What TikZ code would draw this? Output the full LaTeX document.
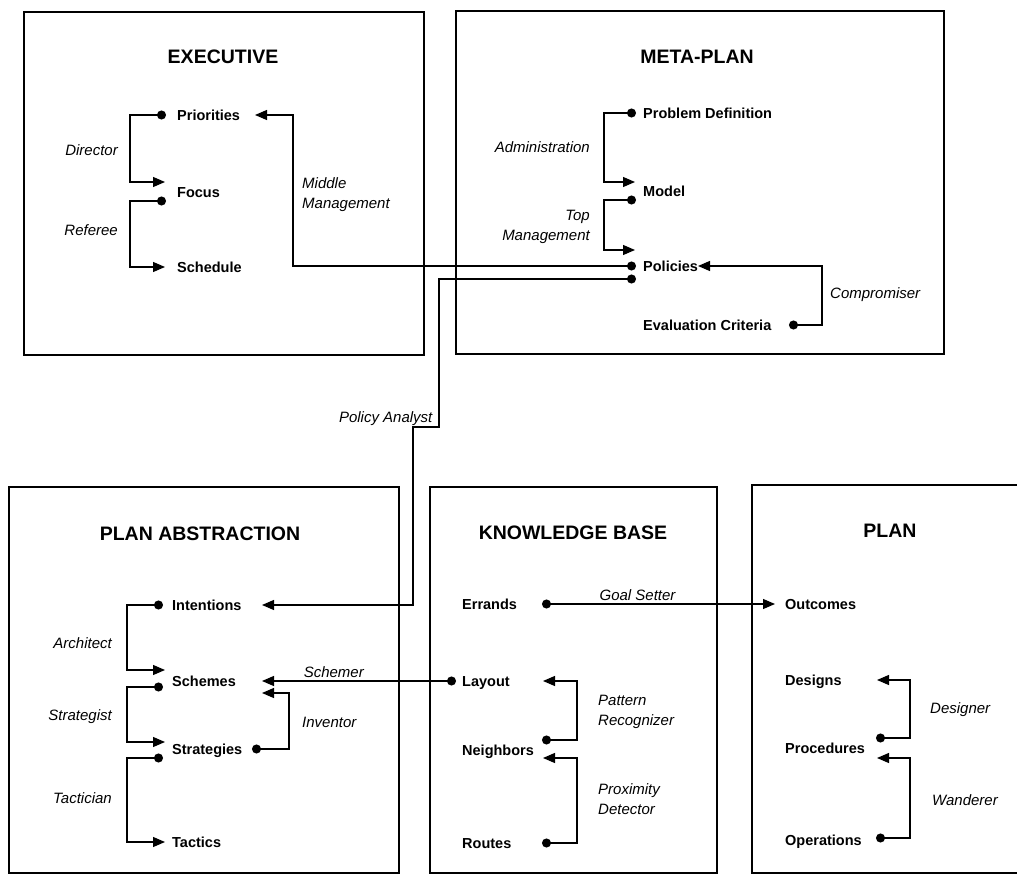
\documentclass[tikz,border=0pt]{standalone}
\usepackage{fontspec}
\setmainfont{Liberation Sans}
\usetikzlibrary{arrows.meta}

\tikzset{
  panel/.style={draw, line width=2.4pt, anchor=north west, inner sep=0pt},
  heading/.style={font=\fontsize{19.5}{22}\selectfont\bfseries, text height=14pt, text depth=0pt, inner sep=0pt},
  item/.style={anchor=west, font=\fontsize{14.5}{17}\selectfont\bfseries, text height=10.5pt, text depth=0pt, inner sep=0pt},
  role/.style={font=\fontsize{15}{20}\selectfont\itshape, inner sep=0pt},
  link/.style={line width=1.2pt, {Circle[length=9pt]}-{Triangle[length=12pt,width=10pt]}},
}

\begin{document}
\begin{tikzpicture}[x=1pt, y=-1pt]%

\path [use as bounding box, clip] (0,0) rectangle (1017,874);

% the five panels
\node [panel, minimum width=400pt, minimum height=343pt] (exec) at (23,11) {};
\node [panel, minimum width=488pt, minimum height=343pt] (meta) at (455,10) {};
\node [panel, minimum width=390pt, minimum height=386pt] (abstr) at (8,486) {};
\node [panel, minimum width=287pt, minimum height=386pt] (kbase) at (429,486) {};
\node [panel, minimum width=300pt, minimum height=388pt] (plan) at (751,484) {};

\node [heading] at (223,57) {EXECUTIVE};
\node [heading] at (697,57) {META-PLAN};
\node [heading] at (200,533) {PLAN ABSTRACTION};
\node [heading] at (573,532) {KNOWLEDGE BASE};
\node [heading] at (890,530) {PLAN};

% items
\foreach \n/\t/\y in {prio/Priorities/115, focus/Focus/192, sched/Schedule/267}
  \node [item] (\n) at (177,\y) {\t};

\foreach \n/\t/\y in {pdef/Problem Definition/113, model/Model/191, pol/Policies/266, evc/Evaluation Criteria/325}
  \node [item] (\n) at (643,\y) {\t};

\foreach \n/\t/\y in {intent/Intentions/605, schemes/Schemes/681, strat/Strategies/749, tactics/Tactics/842}
  \node [item] (\n) at (172,\y) {\t};

\foreach \n/\t/\y in {errands/Errands/604, layout/Layout/681, neigh/Neighbors/750, routes/Routes/843}
  \node [item] (\n) at (462,\y) {\t};

\foreach \n/\t/\y in {outc/Outcomes/604, designs/Designs/680, proc/Procedures/748, oper/Operations/840}
  \node [item] (\n) at (785,\y) {\t};

% executive
\draw [link] ([xshift=-11pt]prio.west) -- ++(-36,0) |- ([shift={(-12,-10)}]focus.west);
\draw [link] ([shift={(-11,9)}]focus.west) -- ++(-36,0) |- ([xshift=-12pt]sched.west);
\draw [link] ([xshift=-7pt]pol.west) -- ++(-343,0) |- ([xshift=78pt]prio.west);

% meta-plan
\draw [link] ([xshift=-7pt]pdef.west) -- ++(-32,0) |- ([shift={(-8,-9)}]model.west);
\draw [link] ([shift={(-7,9)}]model.west) -- ++(-32,0) |- ([shift={(-8,-16)}]pol.west);
\draw [link] ([xshift=146pt]evc.west) -- ++(33,0) |- ([xshift=55pt]pol.west);
\draw [link] ([shift={(-7,13)}]pol.west) -- ++(-197,0) -- ++(0,148)
    node [role, anchor=base east, xshift=-6pt, yshift=5pt] {Policy Analyst}
  -- ++(-26,0) |- ([xshift=90pt]intent.west);

% plan abstraction
\draw [link] ([xshift=-9pt]intent.west) -- ++(-36,0) |- ([shift={(-7,-11)}]schemes.west);
\draw [link] ([shift={(-9,6)}]schemes.west) -- ++(-36,0) |- ([shift={(-7,-7)}]strat.west);
\draw [link] ([shift={(-9,9)}]strat.west) -- ++(-36,0) |- ([xshift=-7pt]tactics.west);
\draw [link] ([xshift=80pt]strat.west) -- ++(37,0) |- ([shift={(90,12)}]schemes.west);
\draw [link] ([xshift=-6pt]layout.west) --
    node [role, above=3pt, pos=.63] {Schemer} ([xshift=90pt]schemes.west);

% knowledge base
\draw [link] ([xshift=80pt]errands.west) --
    node [role, above=3pt, pos=.41] {Goal Setter} ([xshift=-10pt]outc.west);
\draw [link] ([shift={(80,-10)}]neigh.west) -- ++(35,0) |- ([xshift=81pt]layout.west);
\draw [link] ([xshift=80pt]routes.west) -- ++(35,0) |- ([shift={(81,8)}]neigh.west);

% plan
\draw [link] ([shift={(91,-10)}]proc.west) -- ++(34,0) |- ([xshift=92pt]designs.west);
\draw [link] ([shift={(91,-2)}]oper.west) -- ++(34,0) |- ([shift={(92,10)}]proc.west);

% roles
\node [role, anchor=east] at (118,150) {Director};
\node [role, anchor=east] at (118,230) {Referee};
\node [role, anchor=west, align=left] at (302,195) {Middle\\Management};
\node [role, anchor=east] at (590,147) {Administration};
\node [role, anchor=east, align=right] at (590,227) {Top\\Management};
\node [role, anchor=west] at (830,295) {Compromiser};
\node [role, anchor=east] at (112,643) {Architect};
\node [role, anchor=east] at (112,717) {Strategist};
\node [role, anchor=east] at (112,798) {Tactician};
\node [role, anchor=west] at (302,722) {Inventor};
\node [role, anchor=west, align=left] at (598,712) {Pattern\\Recognizer};
\node [role, anchor=west, align=left] at (598,799) {Proximity\\Detector};
\node [role, anchor=west] at (930,710) {Designer};
\node [role, anchor=west] at (932,800) {Wanderer};

\end{tikzpicture}
\end{document}
